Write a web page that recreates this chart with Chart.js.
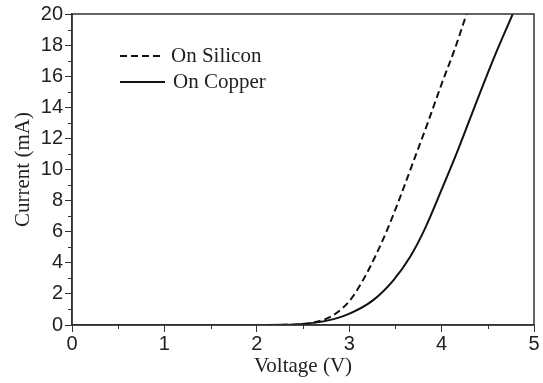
<!DOCTYPE html>
<html>
<head>
<meta charset="utf-8">
<script src="https://cdn.jsdelivr.net/npm/chart.js@4/dist/chart.umd.min.js"></script>
<style>
  html, body { margin: 0; padding: 0; background: #fff; }
  #wrap { width: 543px; height: 383px; }
</style>
</head>
<body>
<div id="wrap"><canvas id="c" width="543" height="383"></canvas></div>
<script>
// readings: voltage (V) -> current (mA)
const siliconVoltage = [0, 1, 2, 2.3, 2.47, 2.65, 2.83, 3.01, 3.15, 3.28, 3.41, 3.55, 3.70, 3.85, 4.0, 4.14, 4.27];
const siliconCurrent = [0, 0, 0, 0.01, 0.05, 0.21, 0.64, 1.6, 2.89, 4.39, 6.1, 8.2, 10.6, 13.0, 15.5, 17.7, 20];
const copperVoltage = [0, 1, 2, 2.3, 2.47, 2.76, 3.01, 3.26, 3.48, 3.66, 3.82, 4.0, 4.16, 4.31, 4.46, 4.61, 4.77];
const copperCurrent = [0, 0, 0, 0.01, 0.05, 0.28, 0.75, 1.6, 2.89, 4.39, 6.2, 8.7, 11.0, 13.3, 15.6, 17.8, 20];

const seriesNames = ['On Silicon', 'On Copper'];
const xTicks = [0, 1, 2, 3, 4, 5];
const yTicks = [0, 2, 4, 6, 8, 10, 12, 14, 16, 18, 20];

const toPoints = (xs, ys) => xs.map((x, i) => ({ x: x, y: ys[i] }));

const ink = '#222';
const sans = '"Liberation Sans", Arial, sans-serif';
const serif = '"Liberation Serif", "Times New Roman", serif';

// little ticks between the labelled ones, the box round the plot, and the legend
const framePlugin = {
  id: 'frame',
  afterDraw(chart) {
    const ctx = chart.ctx;
    const a = chart.chartArea;
    const xs = chart.scales.x, ys = chart.scales.y;
    ctx.save();
    ctx.strokeStyle = '#333';
    ctx.lineWidth = 1.5;
    ctx.strokeRect(a.left, a.top, a.right - a.left, a.bottom - a.top);
    ctx.lineWidth = 1;
    ctx.beginPath();
    for (let i = 0; i < xTicks.length - 1; i++) {
      const px = Math.round(xs.getPixelForValue((xTicks[i] + xTicks[i + 1]) / 2)) + 0.5;
      ctx.moveTo(px, a.bottom);
      ctx.lineTo(px, a.bottom + 4);
    }
    for (let i = 0; i < yTicks.length - 1; i++) {
      const py = Math.round(ys.getPixelForValue((yTicks[i] + yTicks[i + 1]) / 2)) + 0.5;
      ctx.moveTo(a.left, py);
      ctx.lineTo(a.left - 4, py);
    }
    ctx.stroke();

    ctx.font = '21px ' + serif;
    ctx.fillStyle = ink;
    ctx.textBaseline = 'middle';
    chart.data.datasets.forEach((ds, i) => {
      const y = 56 + i * 26;
      ctx.beginPath();
      ctx.strokeStyle = '#111';
      ctx.lineWidth = 2;
      ctx.setLineDash(ds.borderDash || []);
      ctx.moveTo(120, y);
      ctx.lineTo(i === 0 ? 161 : 165, y);
      ctx.stroke();
      ctx.setLineDash([]);
      ctx.fillText(ds.label, i === 0 ? 171 : 173, y);
    });
    ctx.restore();
  }
};

new Chart(document.getElementById('c'), {
  type: 'scatter',
  data: {
    datasets: [
      {
        label: seriesNames[0],
        data: toPoints(siliconVoltage, siliconCurrent),
        showLine: true,
        borderColor: '#111',
        borderWidth: 2,
        borderDash: [7, 4],
        pointRadius: 0,
        cubicInterpolationMode: 'monotone'
      },
      {
        label: seriesNames[1],
        data: toPoints(copperVoltage, copperCurrent),
        showLine: true,
        borderColor: '#111',
        borderWidth: 2,
        pointRadius: 0,
        cubicInterpolationMode: 'monotone'
      }
    ]
  },
  options: {
    responsive: false,
    animation: false,
    layout: { padding: { top: 14, right: 9, left: 0, bottom: 0 } },
    plugins: { legend: { display: false }, tooltip: { enabled: false } },
    scales: {
      x: {
        type: 'linear',
        min: 0,
        max: 5,
        afterBuildTicks: s => { s.ticks = xTicks.map(v => ({ value: v })); },
        afterFit: s => { s.height = 58; },
        grid: { drawOnChartArea: false, drawTicks: true, tickLength: 7, color: '#333' },
        border: { display: true, color: '#333', width: 1.5 },
        ticks: { color: ink, font: { family: sans, size: 20 }, padding: 0, maxRotation: 0 },
        title: { display: true, text: 'Voltage (V)', color: ink, font: { family: serif, size: 21 }, padding: { top: 0, bottom: 4 } }
      },
      y: {
        type: 'linear',
        min: 0,
        max: 20,
        afterBuildTicks: s => { s.ticks = yTicks.map(v => ({ value: v })); },
        afterFit: s => { s.width = 72; },
        grid: { drawOnChartArea: false, drawTicks: true, tickLength: 7, color: '#333' },
        border: { display: true, color: '#333', width: 1.5 },
        ticks: { color: ink, font: { family: sans, size: 20 }, padding: 2 },
        title: { display: true, text: 'Current (mA)', color: ink, font: { family: serif, size: 21 }, padding: { top: 11, bottom: 0 } }
      }
    }
  },
  plugins: [framePlugin]
});
</script>
</body>
</html>
